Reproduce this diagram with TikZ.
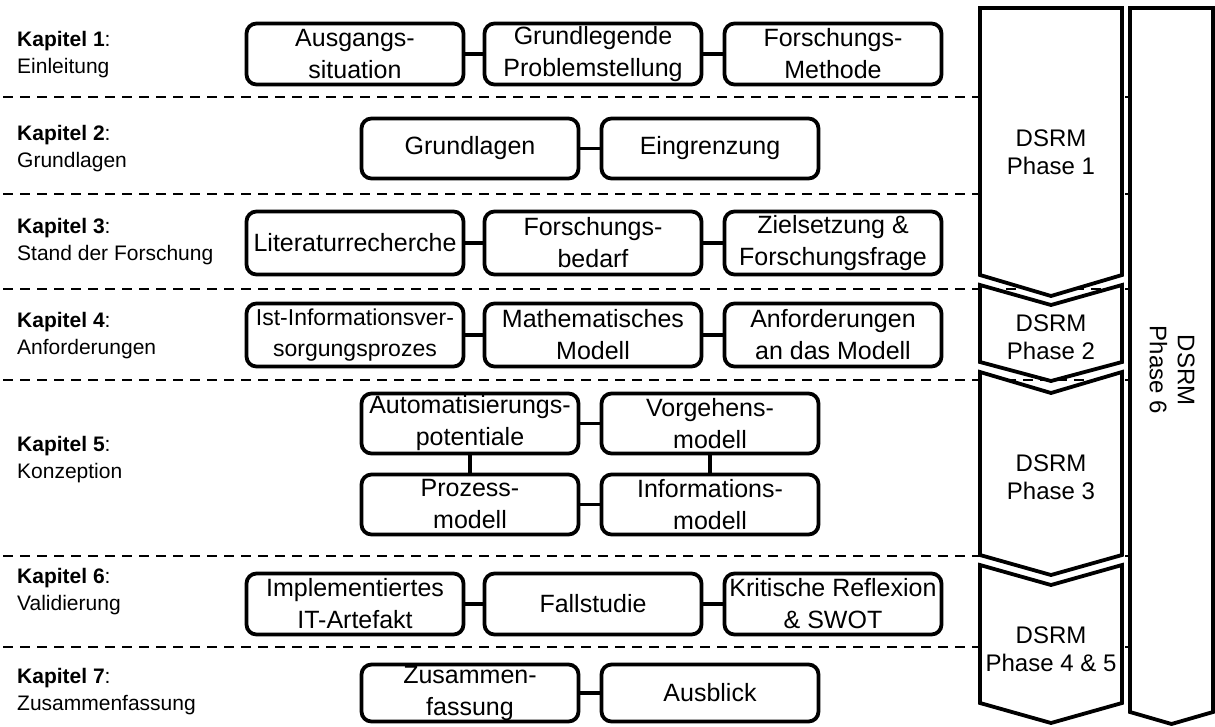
\documentclass[tikz,border=0pt]{standalone}
\usepackage{fontspec}
\setmainfont{Liberation Sans}
\begin{document}
\begin{tikzpicture}[x=1pt,y=-1pt,
  box/.style={draw, line width=3.8pt, rounded corners=10pt, fill=white, align=center,
    inner sep=0pt, minimum width=217pt, font=\fontsize{25}{32}\selectfont},
  conn/.style={line width=3.8pt},
  sep/.style={dash pattern=on 10pt off 7pt, line width=2.3pt},
  chapter/.style={anchor=west, align=left, inner sep=0pt, font=\fontsize{21}{27}\selectfont},
  phase/.style={draw, line width=3.8pt, fill=white, line join=miter},
  phasetext/.style={align=center, inner sep=0pt, font=\fontsize{24}{28}\selectfont}
]
\useasboundingbox (0,0) rectangle (1215,726);

% chapter separators
\foreach \yy in {97,194,289,380,556,647}
  \draw[sep] (3,\yy) -- (1130,\yy);

% chapter labels
\node[chapter] (k1) at (17,55)  {\textbf{Kapitel 1}:\\Einleitung};
\node[chapter] (k2) at (17,149) {\textbf{Kapitel 2}:\\Grundlagen};
\node[chapter] (k3) at (17,242) {\textbf{Kapitel 3}:\\Stand der Forschung};
\node[chapter] (k4) at (17,336) {\textbf{Kapitel 4}:\\Anforderungen};
\node[chapter] (k5) at (17,460) {\textbf{Kapitel 5}:\\Konzeption};
\node[chapter] (k6) at (17,592) {\textbf{Kapitel 6}:\\Validierung};
\node[chapter] (k7) at (17,692) {\textbf{Kapitel 7}:\\Zusammenfassung};

% chapter 1
\node[box, minimum height=61pt] (a1) at (355,54) {Ausgangs-\\situation};
\node[box, minimum height=61pt] (a2) at (593,54) {Grundlegende\\Problemstellung};
\node[box, minimum height=61pt] (a3) at (833,54) {Forschungs-\\Methode};
\draw[conn] (a1) -- (a2);
\draw[conn] (a2) -- (a3);

% chapter 2
\node[box, minimum height=60pt] (b1) at (470,148.5) {Grundlagen};
\node[box, minimum height=60pt] (b2) at (710,148.5) {Eingrenzung};
\draw[conn] (b1) -- (b2);

% chapter 3
\node[box, minimum height=63pt] (c1) at (355,243) {Literaturrecherche};
\node[box, minimum height=63pt] (c2) at (593,243) {Forschungs-\\bedarf};
\node[box, minimum height=63pt] (c3) at (833,243) {Zielsetzung \&\\Forschungsfrage};
\draw[conn] (c1) -- (c2);
\draw[conn] (c2) -- (c3);

% chapter 4
\node[box, minimum height=63pt, font=\fontsize{23}{31}\selectfont] (d1) at (355,335) {Ist-Informationsver-\\sorgungsprozes};
\node[box, minimum height=63pt] (d2) at (593,335) {Mathematisches\\Modell};
\node[box, minimum height=63pt] (d3) at (833,335) {Anforderungen\\an das Modell};
\draw[conn] (d1) -- (d2);
\draw[conn] (d2) -- (d3);

% chapter 5
\node[box, minimum height=60pt] (e1) at (470,423.5) {Automatisierungs-\\potentiale};
\node[box, minimum height=60pt] (e2) at (710,423.5) {Vorgehens-\\modell};
\node[box, minimum height=60pt] (e3) at (470,504.5) {Prozess-\\modell};
\node[box, minimum height=60pt] (e4) at (710,504.5) {Informations-\\modell};
\draw[conn] (e1) -- (e2);
\draw[conn] (e3) -- (e4);
\draw[conn] (e1) -- (e3);
\draw[conn] (e2) -- (e4);

% chapter 6
\node[box, minimum height=61pt] (f1) at (355,604) {Implementiertes\\IT-Artefakt};
\node[box, minimum height=61pt] (f2) at (593,604) {Fallstudie};
\node[box, minimum height=61pt] (f3) at (833,604) {Kritische Reflexion\\\& SWOT};
\draw[conn] (f1) -- (f2);
\draw[conn] (f2) -- (f3);

% chapter 7
\node[box, minimum height=57pt] (g1) at (470,693) {Zusammen-\\fassung};
\node[box, minimum height=57pt] (g2) at (710,693) {Ausblick};
\draw[conn] (g1) -- (g2);

% DSRM phase chevrons
\draw[phase] (980,8) -- (1122,8) -- (1122,275) -- (1051,296) -- (980,275) -- cycle;
\draw[phase] (980,285) -- (1051,305) -- (1122,285) -- (1122,362) -- (1051,381) -- (980,362) -- cycle;
\draw[phase] (980,372) -- (1051,393) -- (1122,372) -- (1122,555) -- (1051,575) -- (980,555) -- cycle;
\draw[phase] (980,565) -- (1051,585) -- (1122,565) -- (1122,703) -- (1051,723) -- (980,703) -- cycle;
\draw[phase] (1130,8) -- (1213,8) -- (1213,712) -- (1171.5,724) -- (1130,712) -- cycle;

\node[phasetext] (p1) at (1051,152) {DSRM\\Phase 1};
\node[phasetext] (p2) at (1051,337) {DSRM\\Phase 2};
\node[phasetext] (p3) at (1051,477) {DSRM\\Phase 3};
\node[phasetext] (p45) at (1051,649) {DSRM\\Phase 4 \& 5};
\node[phasetext, rotate=-90] (p6) at (1172,370) {DSRM\\Phase 6};
\end{tikzpicture}
\end{document}
